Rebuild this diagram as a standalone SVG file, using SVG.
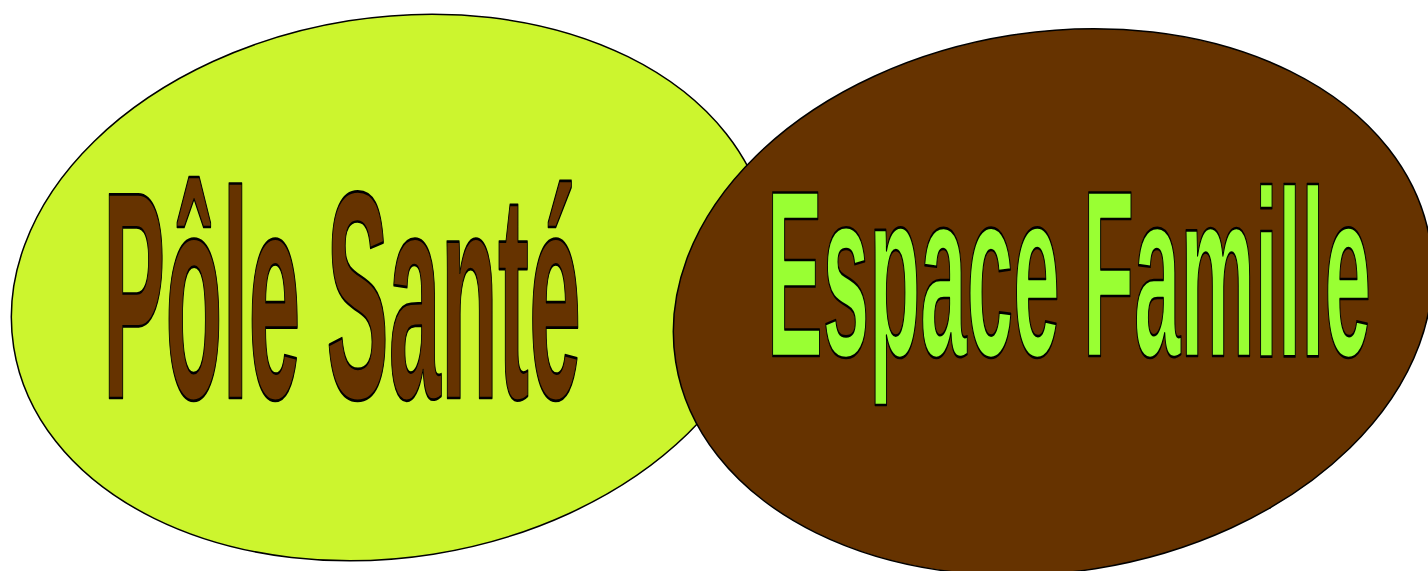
<svg xmlns="http://www.w3.org/2000/svg" width="1428" height="571" viewBox="0 0 1428 571">
<style>
.shape{stroke:#000;stroke-width:1.5}
.lbl{font-family:"Liberation Sans",Arial,sans-serif;font-weight:bold;stroke:#000;stroke-width:2;stroke-linejoin:round;vector-effect:non-scaling-stroke}
</style>
<rect width="1428" height="571" fill="#fff"/>
<g id="node-pole-sante">
<ellipse class="shape" cx="391" cy="287.5" rx="382" ry="270" transform="rotate(-9 391 287.5)" fill="#CCF52E"/>
<text class="lbl" transform="scale(0.3159 1)" x="326" y="398" font-size="296" fill="#663300">Pôle Santé</text>
</g>
<g id="node-espace-famille">
<ellipse class="shape" cx="1053" cy="302" rx="382" ry="270" transform="rotate(-9 1053 302)" fill="#663300"/>
<text class="lbl" transform="scale(0.3512 1)" x="2184" y="356" font-size="238" fill="#99FF33">Espace Famille</text>
</g>
</svg>
